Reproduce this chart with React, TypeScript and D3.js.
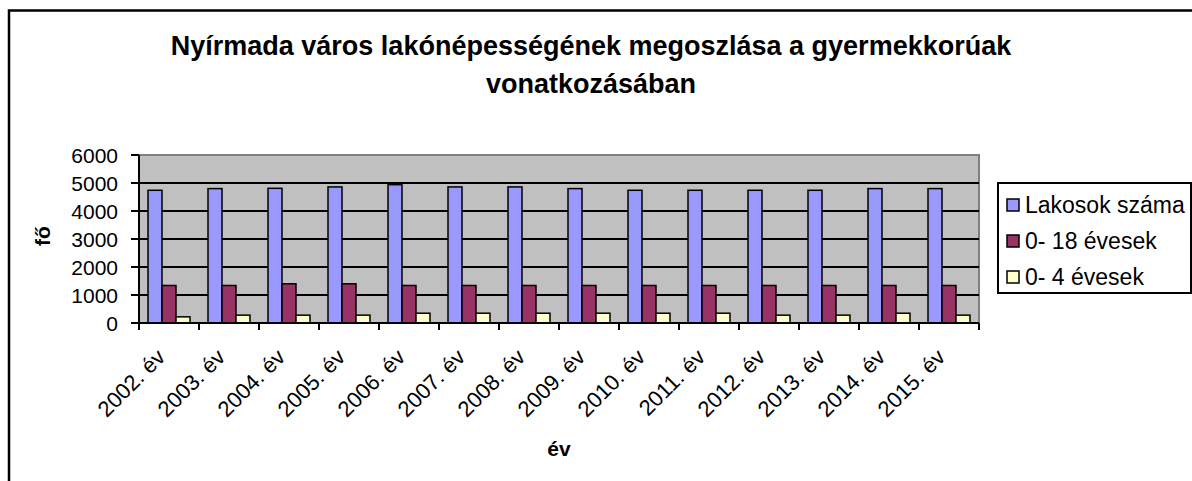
import * as d3 from 'd3';

const years = ['2002. év', '2003. év', '2004. év', '2005. év', '2006. év', '2007. év', '2008. év',
  '2009. év', '2010. év', '2011. év', '2012. év', '2013. év', '2014. év', '2015. év'];
const lakosok = [4740, 4800, 4810, 4860, 4940, 4860, 4860, 4800, 4740, 4740, 4740, 4740, 4800, 4800];
const kor18 = [1340, 1340, 1400, 1400, 1340, 1340, 1340, 1340, 1340, 1340, 1340, 1340, 1340, 1340];
const kor4 = [220, 280, 280, 280, 350, 350, 350, 350, 350, 350, 280, 280, 350, 280];
const seriesNames = ['Lakosok száma', '0- 18 évesek', '0- 4 évesek'];
const seriesColors = ['#9999FF', '#993366', '#FFFFCC'];
const yTicks = [0, 1000, 2000, 3000, 4000, 5000, 6000];

const W = 1192;
const H = 481;
const font = '"Liberation Sans", Arial, sans-serif';

export default function App() {
  const left = 139, right = 979, top = 155, bottom = 323;
  const x = d3.scaleBand<string>().domain(years).range([left, right]).paddingInner(0.3).paddingOuter(0.15);
  const cat = d3.scaleBand<string>().domain(years).range([left, right]);
  const sub = d3.scaleBand<number>().domain([0, 1, 2]).range([0, x.bandwidth()]);
  const y = d3.scaleLinear().domain([0, 6000]).range([bottom, top]);
  const series = [lakosok, kor18, kor4];

  return (
    <svg width={W} height={H} style={{ position: 'absolute', left: 0, top: 0, fontFamily: font }}>
      <rect x={0} y={0} width={W} height={H} fill="#fff" />
      {/* outer frame */}
      <path d={`M9,${H} V10.5 H${W}`} fill="none" stroke="#000" strokeWidth={2.5} />

      <text x={591} y={55} textAnchor="middle" fontSize={27} fontWeight="bold">
        Nyírmada város lakónépességének megoszlása a gyermekkorúak
      </text>
      <text x={591} y={93} textAnchor="middle" fontSize={27} fontWeight="bold">
        vonatkozásában
      </text>

      {/* plot area */}
      <rect x={left} y={top} width={right - left} height={bottom - top} fill="#C0C0C0" stroke="#808080" strokeWidth={2} />
      {yTicks.slice(1, -1).map((t) => (
        <line key={t} x1={left} x2={right} y1={y(t)} y2={y(t)} stroke="#000" strokeWidth={2} />
      ))}

      {series.map((vals, si) =>
        vals.map((v, i) => (
          <rect
            key={`${si}-${i}`}
            x={(x(years[i]) ?? 0) + (sub(si) ?? 0)}
            y={y(v)}
            width={sub.bandwidth()}
            height={y(0) - y(v)}
            fill={seriesColors[si]}
            stroke="#000"
            strokeWidth={1.5}
          />
        ))
      )}

      {/* y axis */}
      <line x1={left} x2={left} y1={top} y2={bottom} stroke="#000" strokeWidth={2} />
      {yTicks.map((t) => (
        <g key={t}>
          <line x1={left - 8} x2={left} y1={y(t)} y2={y(t)} stroke="#000" strokeWidth={2} />
          <text x={118} y={y(t)} dy="0.36em" textAnchor="end" fontSize={21}>{t}</text>
        </g>
      ))}
      <text transform={`translate(50,236) rotate(-90)`} textAnchor="middle" fontSize={21} fontWeight="bold">fő</text>

      {/* x axis */}
      <line x1={left} x2={right} y1={bottom} y2={bottom} stroke="#000" strokeWidth={2} />
      {years.map((yr) => (
        <line key={yr} x1={cat(yr)} x2={cat(yr)} y1={bottom} y2={bottom + 7} stroke="#000" strokeWidth={2} />
      ))}
      <line x1={right} x2={right} y1={bottom} y2={bottom + 7} stroke="#000" strokeWidth={2} />
      {years.map((yr) => {
        const cx = (cat(yr) ?? 0) + cat.bandwidth() / 2;
        return (
          <text key={yr} transform={`translate(${cx - 8},${bottom + 30}) rotate(-45)`} textAnchor="end" dy="0.35em" fontSize={22}>
            {yr}
          </text>
        );
      })}
      <text x={(left + right) / 2} y={456} textAnchor="middle" fontSize={21} fontWeight="bold">év</text>

      {/* legend */}
      <rect x={998} y={183} width={193} height={110} fill="#fff" stroke="#000" strokeWidth={2} />
      {seriesNames.map((n, i) => (
        <g key={n} transform={`translate(1007,${205 + i * 36})`}>
          <rect x={0} y={-6} width={12} height={12} fill={seriesColors[i]} stroke="#000" strokeWidth={1.5} />
          <text x={18} y={0} dy="0.36em" fontSize={23}>{n}</text>
        </g>
      ))}
    </svg>
  );
}
